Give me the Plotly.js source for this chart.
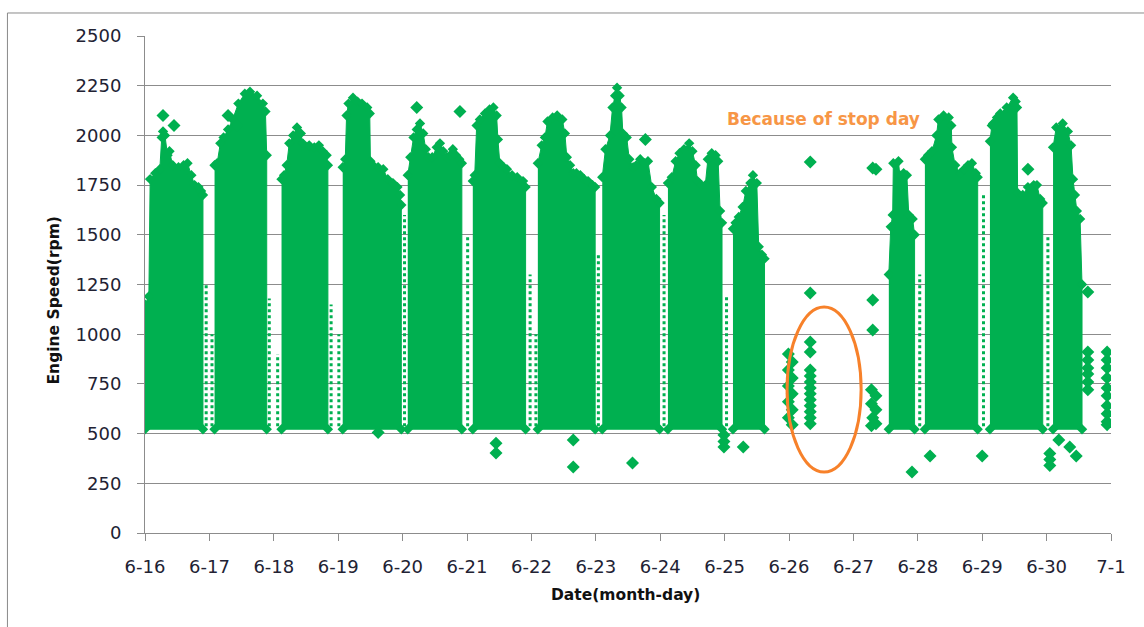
<!DOCTYPE html>
<html>
<head>
<meta charset="utf-8">
<script src="https://cdn.plot.ly/plotly-3.0.1.min.js"></script>
<style>html,body{margin:0;padding:0;background:#fff;}#chart{width:1144px;height:627px;}</style>
</head>
<body>
<div id="chart"></div>
<script>
// ---- tick labels (x = days since 6-16) ----
const tickVals = [0,1,2,3,4,5,6,7,8,9,10,11,12,13,14,15];
const tickText = ['6-16','6-17','6-18','6-19','6-20','6-21','6-22','6-23','6-24','6-25','6-26','6-27','6-28','6-29','6-30','7-1'];

// ---- lowest recorded engine speed of the dense running blocks (rpm) ----
const idleFloor = 522;

// ---- dense running blocks: upper envelope (day, rpm) ----
const runX = [
  [0, 0.06, 0.08, 0.16, 0.23, 0.26, 0.28, 0.31, 0.35, 0.38, 0.43, 0.52, 0.6, 0.66, 0.72, 0.77, 0.83, 0.87, 0.9],
  [1.08, 1.12, 1.17, 1.22, 1.29, 1.36, 1.45, 1.55, 1.63, 1.74, 1.83, 1.87, 1.89],
  [2.12, 2.16, 2.2, 2.24, 2.3, 2.36, 2.42, 2.45, 2.5, 2.55, 2.63, 2.7, 2.76, 2.82, 2.84],
  [3.07, 3.11, 3.13, 3.16, 3.23, 3.3, 3.37, 3.45, 3.49, 3.5, 3.54, 3.62, 3.7, 3.77, 3.85, 3.92, 3.96, 3.98],
  [4.08, 4.12, 4.17, 4.22, 4.27, 4.32, 4.36, 4.4, 4.46, 4.53, 4.58, 4.63, 4.69, 4.74, 4.78, 4.83, 4.88, 4.92],
  [5.09, 5.12, 5.15, 5.2, 5.28, 5.35, 5.41, 5.46, 5.48, 5.51, 5.57, 5.62, 5.7, 5.78, 5.87, 5.91],
  [6.1, 6.16, 6.21, 6.25, 6.33, 6.4, 6.48, 6.52, 6.55, 6.6, 6.65, 6.7, 6.76, 6.82, 6.88, 6.95, 6.99],
  [7.1, 7.15, 7.22, 7.26, 7.3, 7.33, 7.37, 7.4, 7.42, 7.48, 7.52, 7.58, 7.63, 7.69, 7.76, 7.81, 7.87, 7.94, 7.99],
  [8.12, 8.18, 8.24, 8.3, 8.37, 8.45, 8.5, 8.55, 8.58, 8.64, 8.7, 8.74, 8.8, 8.86, 8.9, 8.93, 8.96],
  [9.13, 9.17, 9.22, 9.28, 9.33, 9.4, 9.44, 9.5, 9.53, 9.58, 9.62],
  [11.55, 11.58, 11.61, 11.62, 11.7, 11.72, 11.78, 11.83, 11.86, 11.92, 11.95],
  [12.11, 12.16, 12.22, 12.29, 12.32, 12.4, 12.48, 12.52, 12.53, 12.58, 12.66, 12.72, 12.78, 12.84, 12.9, 12.93],
  [13.12, 13.15, 13.23, 13.28, 13.38, 13.48, 13.52, 13.54, 13.55, 13.63, 13.71, 13.8, 13.85, 13.9, 13.94],
  [14.1, 14.15, 14.25, 14.33, 14.38, 14.41, 14.44, 14.47, 14.52, 14.55]
];
const runTop = [
  [1150, 1190, 1780, 1810, 1830, 1990, 2020, 2000, 1900, 1920, 1850, 1840, 1850, 1860, 1800, 1750, 1740, 1720, 1700],
  [1850, 1860, 1960, 1990, 2030, 2080, 2160, 2210, 2220, 2200, 2160, 2120, 1900],
  [1780, 1800, 1850, 1960, 2000, 2040, 2010, 1960, 1930, 1950, 1940, 1950, 1920, 1900, 1850],
  [1840, 1880, 2100, 2160, 2190, 2170, 2160, 2140, 2110, 1870, 1850, 1840, 1830, 1780, 1760, 1740, 1700, 1650],
  [1800, 1890, 1990, 2030, 2060, 2010, 1930, 1890, 1890, 1940, 1960, 1920, 1890, 1900, 1930, 1900, 1880, 1860],
  [1770, 1800, 2050, 2080, 2110, 2130, 2140, 2100, 1980, 1860, 1840, 1830, 1800, 1790, 1770, 1740],
  [1860, 1950, 1990, 2070, 2090, 2100, 2080, 2010, 1890, 1850, 1810, 1810, 1800, 1780, 1770, 1750, 1740],
  [1790, 1930, 2000, 2140, 2200, 2240, 2200, 2140, 2010, 1990, 1880, 1840, 1850, 1880, 1860, 1870, 1740, 1680, 1660],
  [1760, 1790, 1870, 1910, 1930, 1960, 1920, 1850, 1770, 1750, 1750, 1880, 1910, 1900, 1870, 1620, 1560],
  [1530, 1560, 1590, 1640, 1720, 1760, 1800, 1760, 1440, 1400, 1380],
  [1300, 1540, 1600, 1860, 1870, 1800, 1810, 1800, 1600, 1580, 1500],
  [1880, 1900, 1920, 2000, 2080, 2100, 2090, 2050, 1940, 1850, 1810, 1830, 1850, 1860, 1810, 1790],
  [1970, 2050, 2090, 2110, 2140, 2190, 2170, 2140, 1710, 1700, 1740, 1750, 1750, 1680, 1660],
  [1940, 2040, 2060, 2020, 1950, 1780, 1700, 1620, 1580, 1250]
];

// ---- sparse readings between running blocks: position (day) and highest rpm ----
const gapX   = [0.95, 1.04, 1.93, 2.06, 2.89, 3.01, 4.03, 5.01, 5.98, 6.07, 7.04, 8.06, 9.03, 12.03, 13.02, 14.02];
const gapTop = [1250, 1000, 1180, 900, 1150, 1000, 1600, 1500, 1300, 1000, 1400, 1600, 1200, 1300, 1700, 1500];

// ---- isolated readings (day, rpm) ----
const pointX = [
  0.28, 0.45, 1.29, 1.43, 4.22, 4.89, 7.77, 13.19, 13.71, 14.64,
  10.33, 10.33, 10.33, 10.33, 10.33, 10.33, 10.33, 10.33, 10.33, 10.33, 10.33, 10.33, 10.33, 10.33,
  9.99, 10.05, 9.99, 10.05, 9.99, 10.05, 9.99, 10.05, 9.99, 10.05,
  11.3, 11.35, 11.3, 11.3, 11.28, 11.35, 11.28, 11.35, 11.3, 11.35, 11.28,
  14.64, 14.64, 14.64, 14.64, 14.64, 14.64,
  14.94, 14.94, 14.94, 14.94, 14.94, 14.94, 14.94, 14.94, 14.94, 14.94,
  3.62, 5.45, 5.45, 6.65, 6.65, 7.57, 8.99, 8.99, 8.99, 9.29, 11.91, 12.19, 13.0, 14.05, 14.05, 14.05, 14.19, 14.36, 14.46
];
const pointY = [
  2100, 2050, 2100, 2050, 2140, 2120, 1980, 2060, 1830, 1212,
  1866, 1207, 961, 910, 820, 790, 760, 730, 700, 670, 640, 610, 580, 550,
  900, 860, 820, 780, 740, 700, 660, 620, 580, 545,
  1836, 1830, 1172, 1021, 720, 690, 650, 620, 580, 550, 540,
  910, 870, 830, 800, 760, 720,
  910, 870, 830, 780, 730, 690, 640, 600, 560, 545,
  505, 452, 402, 468, 332, 352, 493, 460, 433, 433, 307, 387, 387, 400, 370, 340, 468, 433, 387
];

// ---- annotation ----
const noteText = 'Because of stop day';
const noteX = 10.54, noteY = 2083;
const stopX = [9.97, 11.12], stopY = [307, 1137];

const green = '#00B050';
const traces = [];

gapX.forEach((gx, i) => {
  traces.push({
    type: 'scatter', mode: 'lines', x: [gx, gx], y: [idleFloor + 15, gapTop[i]],
    line: {color: green, width: 3, dash: 'dot'}, hoverinfo: 'skip', showlegend: false
  });
});

runX.forEach((xs, i) => {
  const tops = runTop[i];
  traces.push({
    type: 'scatter', mode: 'lines+markers',
    x: xs.concat([xs[xs.length - 1], xs[0]]),
    y: tops.concat([idleFloor, idleFloor]),
    fill: 'toself', fillcolor: green,
    line: {color: green, width: 1},
    marker: {symbol: 'diamond', size: 8, color: green},
    hoverinfo: 'skip', showlegend: false
  });
});

traces.push({
  type: 'scatter', mode: 'markers', x: pointX, y: pointY,
  marker: {symbol: 'diamond', size: 10, color: green},
  hoverinfo: 'skip', showlegend: false
});

const grey = '#8c8c8c';
const tickFont = {family: 'DejaVu Sans, Verdana, sans-serif', size: 18, color: '#222233'};
const titleFont = {family: 'DejaVu Sans, Verdana, sans-serif', size: 15.5, color: '#111111', weight: 'bold'};

const layout = {
  width: 1144, height: 627,
  margin: {l: 145, r: 33, t: 36, b: 94},
  paper_bgcolor: '#ffffff', plot_bgcolor: '#ffffff',
  showlegend: false,
  xaxis: {
    range: [0, 15], tickmode: 'array', tickvals: tickVals, ticktext: tickText,
    ticks: 'outside', ticklen: 7, tickcolor: grey, tickwidth: 1,
    showline: true, linecolor: grey, linewidth: 1,
    showgrid: false, zeroline: false, tickfont: tickFont, ticklabelstandoff: 10, fixedrange: true
  },
  yaxis: {
    range: [0, 2500], tickmode: 'linear', tick0: 0, dtick: 250, tickformat: 'd',
    ticks: 'outside', ticklen: 7, tickcolor: grey, tickwidth: 1,
    showline: true, linecolor: grey, linewidth: 1,
    showgrid: true, gridcolor: grey, gridwidth: 1,
    zeroline: false, tickfont: tickFont, ticklabelstandoff: 12, fixedrange: true
  },
  shapes: [
    {type: 'circle', xref: 'x', yref: 'y', x0: stopX[0], x1: stopX[1], y0: stopY[0], y1: stopY[1],
     line: {color: '#F7812A', width: 3}},
    {type: 'rect', xref: 'paper', yref: 'paper', x0: -0.1424, x1: 1.06, y0: -0.25, y1: 1.0463,
     line: {color: '#8a8a8a', width: 1}, fillcolor: 'rgba(0,0,0,0)'}
  ],
  annotations: [
    {text: noteText, x: noteX, y: noteY, xref: 'x', yref: 'y', showarrow: false,
     font: {family: 'DejaVu Sans, Verdana, sans-serif', size: 17, color: '#F79646', weight: 'bold'}},
    {text: 'Engine Speed(rpm)', x: -0.0937, y: 0.4688, xref: 'paper', yref: 'paper', textangle: -90,
     showarrow: false, xanchor: 'center', yanchor: 'middle', font: titleFont},
    {text: 'Date(month-day)', x: 0.4974, y: -0.1247, xref: 'paper', yref: 'paper',
     showarrow: false, xanchor: 'center', yanchor: 'middle', font: titleFont}
  ]
};

Plotly.newPlot('chart', traces, layout, {displayModeBar: false, staticPlot: true});
</script>
</body>
</html>
